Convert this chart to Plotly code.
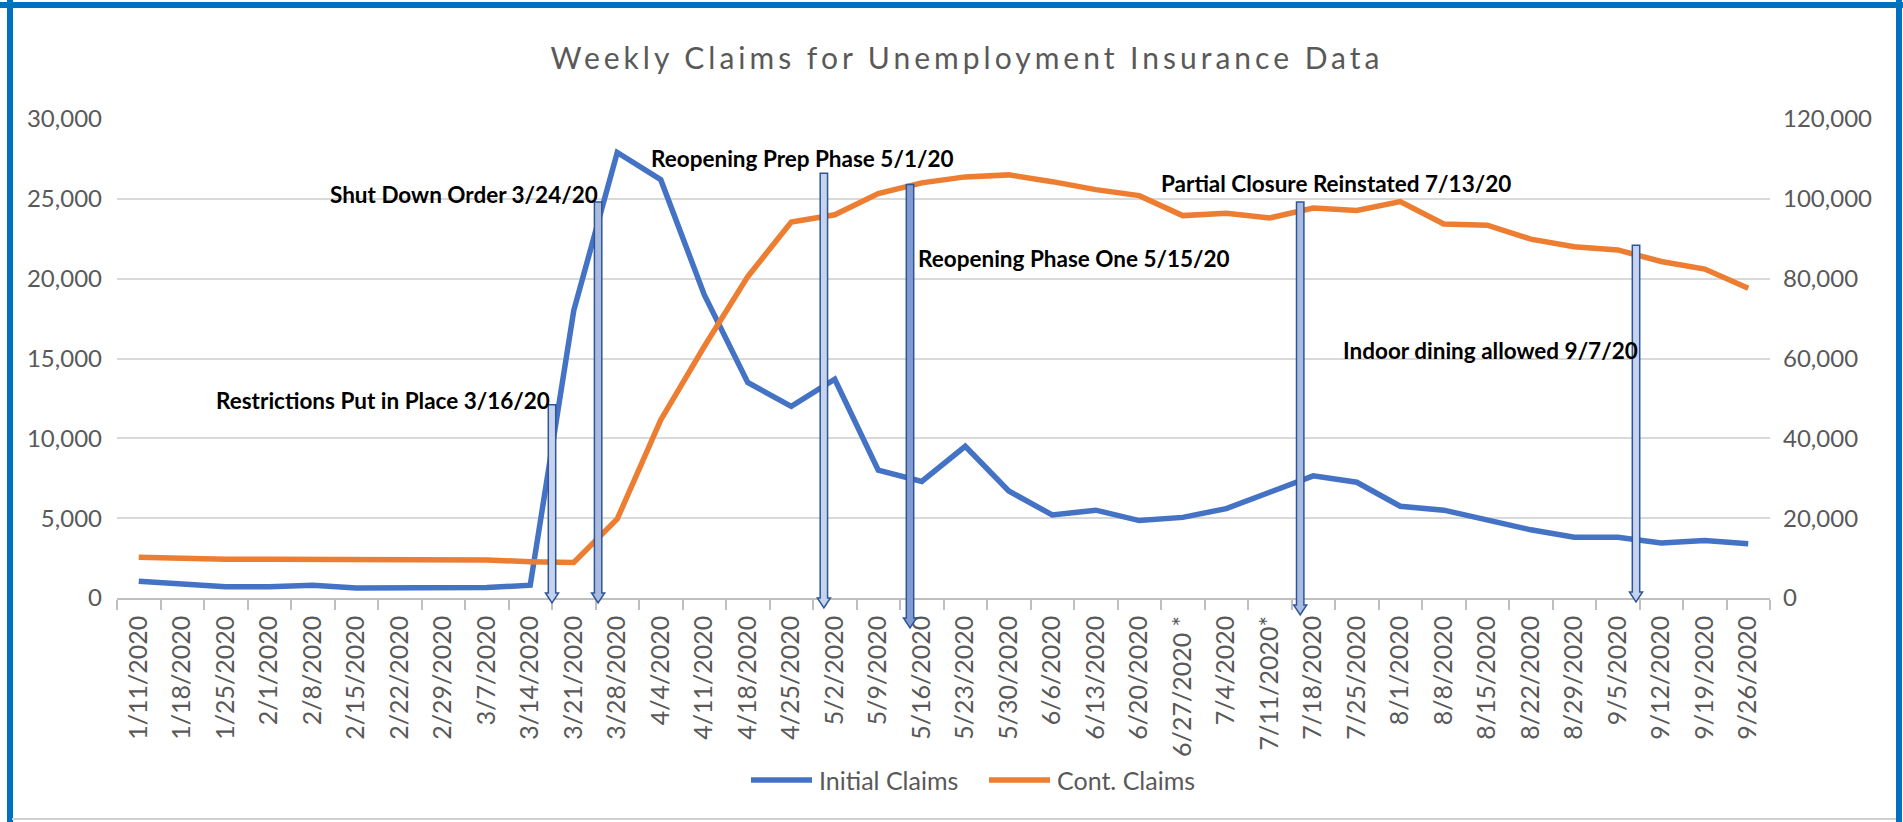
import plotly.graph_objects as go

# ---------------- data ----------------
week_labels = [
    "1/11/2020", "1/18/2020", "1/25/2020", "2/1/2020", "2/8/2020", "2/15/2020",
    "2/22/2020", "2/29/2020", "3/7/2020", "3/14/2020", "3/21/2020", "3/28/2020",
    "4/4/2020", "4/11/2020", "4/18/2020", "4/25/2020", "5/2/2020", "5/9/2020",
    "5/16/2020", "5/23/2020", "5/30/2020", "6/6/2020", "6/13/2020", "6/20/2020",
    "6/27/2020 *", "7/4/2020", "7/11/2020*", "7/18/2020", "7/25/2020", "8/1/2020",
    "8/8/2020", "8/15/2020", "8/22/2020", "8/29/2020", "9/5/2020", "9/12/2020",
    "9/19/2020", "9/26/2020",
]
initial_claims = [
    1050, 900, 700, 700, 800, 620, 620, 620, 650, 800, 18000, 27900,
    26200, 19000, 13500, 12000, 13700, 8000, 7300, 9500, 6700, 5200,
    5500, 4850, 5050, 5600, 6600, 7650, 7250, 5750, 5500, 4900,
    4270, 3800, 3800, 3450, 3600, 3400,
]
cont_claims = [
    10200, 9800, 9700, 9700, 9700, 9700, 9700, 9700, 9500, 9100, 8900, 19800,
    44600, 63000, 80500, 94200, 96000, 101300, 104000, 105500, 106000, 104300,
    102300, 100800, 95800, 96400, 95200, 97700, 97100, 99300, 93700, 93400,
    89900, 88000, 87200, 84300, 82400, 77600,
]
series_names = ["Initial Claims", "Cont. Claims"]

event_labels = [
    "Restrictions Put in Place 3/16/20",
    "Shut Down Order 3/24/20",
    "Reopening Prep Phase 5/1/20",
    "Reopening Phase One 5/15/20",
    "Partial Closure Reinstated 7/13/20",
    "Indoor dining allowed 9/7/20",
]
# fractional week index where each event arrow sits
event_pos = [9.5, 10.56, 15.75, 17.73, 26.7, 34.42]
# top of each arrow, in left-axis units
event_top = [12100, 24800, 26600, 25900, 24800, 22100]

# ---------------- layout helpers ----------------
W, H = 1903, 822
L, R, T, B = 117, 133, 119, 224
PW, PH = W - L - R, H - T - B
Y_MAX = 30000
Y2_MAX = 120000


def px_x(px):
    return (px - L) / PW


def px_y(py):
    return (H - B - py) / PH


FONT = "Lato"
GREY = "#595959"
COLORS = ["#4472C4", "#ED7D31"]

fig = go.Figure()
fig.add_trace(go.Scatter(
    x=week_labels, y=initial_claims, name=series_names[0], mode="lines",
    line=dict(color=COLORS[0], width=5.5), yaxis="y",
))
fig.add_trace(go.Scatter(
    x=week_labels, y=cont_claims, name=series_names[1], mode="lines",
    line=dict(color=COLORS[1], width=5.5), yaxis="y2",
))

shapes = []
annotations = []

# event arrows (narrow block arrows pointing down at the axis)
arrow_fill = ["#C5D3EE", "#A9BCE0", "#C5D3EE", "#7F9BD2", "#A9BCE0", "#C5D3EE"]
tip_px = [603, 603, 608, 628, 615, 602]
label_anchor = ["right", "right", "center", "left", "center", "right"]
label_shift = [0, 2, -21, 6, 36, 4]
label_ypx = [400, 195, 158, 258, 183, 350]
half_shaft = 0.085
half_head = 0.15
for i, lab in enumerate(event_labels):
    xc = event_pos[i]
    ytop = event_top[i] / Y_MAX
    ytip = px_y(tip_px[i])
    yneck = ytip + 10 / PH
    shapes.append(dict(
        type="path", xref="x", yref="paper", layer="above",
        path=(f"M {xc - half_shaft},{yneck} L {xc - half_shaft},{ytop} "
              f"L {xc + half_shaft},{ytop} L {xc + half_shaft},{yneck} "
              f"L {xc + half_head},{yneck} L {xc},{ytip} "
              f"L {xc - half_head},{yneck} Z"),
        fillcolor=arrow_fill[i], line=dict(color="#2F5597", width=1.5),
    ))
    annotations.append(dict(
        text=f"<b>{lab}</b>", xref="x", yref="paper", x=xc,
        y=px_y(label_ypx[i]), xanchor=label_anchor[i], yanchor="middle",
        xshift=label_shift[i], showarrow=False,
        font=dict(family=FONT, size=22.5, color="#000000"),
    ))

# legend drawn below the axis labels (line swatch + name)
legend_line_px = [(751, 812), (989, 1050)]
LEG_Y = px_y(780)
for i, name in enumerate(series_names):
    x0, x1 = legend_line_px[i]
    shapes.append(dict(type="line", xref="paper", yref="paper",
                       x0=px_x(x0), x1=px_x(x1), y0=LEG_Y, y1=LEG_Y,
                       line=dict(color=COLORS[i], width=5.5)))
    annotations.append(dict(
        text=name, xref="paper", yref="paper", x=px_x(x1 + 5), y=LEG_Y,
        xanchor="left", yanchor="middle", showarrow=False,
        font=dict(family=FONT, size=25, color=GREY),
    ))

# outer frame (blue on top / sides, light grey at the bottom)
shapes.append(dict(type="line", xref="paper", yref="paper",
                   x0=px_x(0), x1=px_x(W), y0=px_y(5), y1=px_y(5),
                   line=dict(color="#0070C0", width=6), layer="above"))
shapes.append(dict(type="line", xref="paper", yref="paper",
                   x0=px_x(10), x1=px_x(10), y0=px_y(0), y1=px_y(H),
                   line=dict(color="#0070C0", width=6), layer="above"))
shapes.append(dict(type="line", xref="paper", yref="paper",
                   x0=px_x(1899), x1=px_x(1899), y0=px_y(0), y1=px_y(H),
                   line=dict(color="#0070C0", width=6), layer="above"))
shapes.append(dict(type="line", xref="paper", yref="paper",
                   x0=px_x(12), x1=px_x(1896), y0=px_y(819), y1=px_y(819),
                   line=dict(color="#D0D0D0", width=2), layer="above"))

fig.update_layout(
    width=W, height=H, showlegend=False,
    margin=dict(l=L, r=R, t=T, b=B, autoexpand=False),
    paper_bgcolor="white", plot_bgcolor="white",
    title=dict(
        text="Weekly Claims for Unemployment Insurance Data",
        x=px_x(967), xref="paper", xanchor="center",
        y=1 - 58 / H, yref="container", yanchor="middle",
        font=dict(family=FONT, size=30, color=GREY),
    ),
    font=dict(family=FONT, color=GREY),
    xaxis=dict(
        type="category", categoryorder="array", categoryarray=week_labels,
        range=[-0.5, len(week_labels) - 0.5], tickangle=-90,
        ticks="outside", tickson="boundaries", ticklen=10,
        tickcolor="#BFBFBF", tickwidth=1.5,
        showline=True, linecolor="#BFBFBF", linewidth=1.5,
        showgrid=False, zeroline=False, ticklabelstandoff=6,
        tickfont=dict(family=FONT, size=25, color=GREY),
    ),
    yaxis=dict(
        range=[0, Y_MAX], dtick=5000, tickformat=",",
        showgrid=True, gridcolor="#D9D9D9", gridwidth=1.5,
        zeroline=False, showline=False, ticks="",
        ticklabelstandoff=14,
        tickfont=dict(family=FONT, size=24, color=GREY),
    ),
    yaxis2=dict(
        range=[0, Y2_MAX], dtick=20000, tickformat=",",
        overlaying="y", side="right", showgrid=False,
        zeroline=False, showline=False, ticks="",
        ticklabelstandoff=12,
        tickfont=dict(family=FONT, size=24, color=GREY),
    ),
    shapes=shapes,
    annotations=annotations,
)

post = (
    "document.body.style.margin='0px';"
    "var gd=document.getElementById('{plot_id}');"
    "function ls(){var t=gd.querySelector('.gtitle');"
    "if(t){t.style.letterSpacing='4px';}}"
    "ls();setTimeout(ls,50);if(gd.on){gd.on('plotly_afterplot',ls);}"
)
fig.write_html("out.html", post_script=post, config={"displayModeBar": False})
